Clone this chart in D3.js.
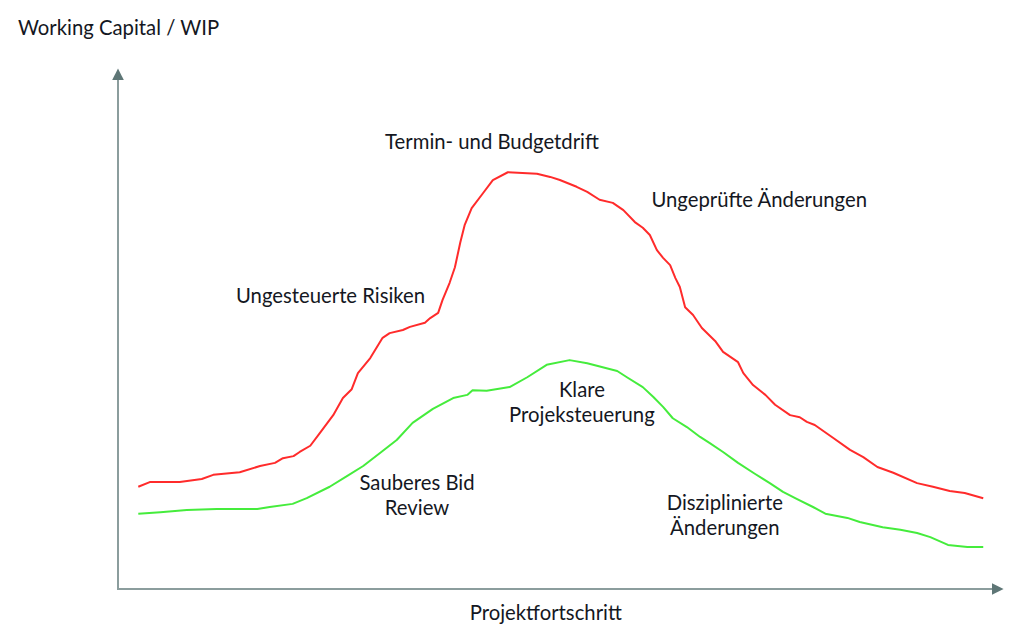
<!DOCTYPE html>
<head>
  <meta charset="utf-8">
  <title>Working Capital / WIP</title>
  <script src="https://d3js.org/d3.v7.min.js"></script>
  <style>
    body { margin: 0; background: #fff; }
    text { font-family: Lato, "Open Sans", sans-serif; fill: #141722; font-size: 20.3px; }
  </style>
</head>
<body>
  <div id="chart"></div>
  <script type="text/javascript">

    // Projektfortschritt (0-100) und WIP (0-100)
    var redX = [2.3, 3.6, 7.0, 9.5, 10.8, 13.8, 16.1, 17.8, 18.7, 19.9, 20.6, 21.8, 22.9, 24.4, 25.5, 26.5, 27.2, 28.6, 30.0, 30.8, 32.3, 33.1, 34.8, 35.4, 36.3, 36.8, 37.6, 38.2, 38.8, 39.3, 40.1, 41.4, 42.5, 44.2, 47.5, 49.0, 50.1, 52.0, 53.2, 54.6, 56.1, 57.3, 58.6, 59.5, 60.3, 61.1, 61.8, 62.6, 63.2, 63.7, 64.3, 65.2, 66.2, 67.7, 68.6, 70.3, 70.9, 72.0, 73.4, 74.5, 76.2, 77.3, 78.1, 79.0, 81.1, 83.0, 84.5, 86.1, 87.9, 90.6, 92.4, 94.3, 96.0, 98.1];
    var redY = [19.7, 20.6, 20.6, 21.2, 22.0, 22.5, 23.7, 24.3, 25.2, 25.6, 26.4, 27.6, 30.1, 33.5, 36.8, 38.5, 41.6, 44.5, 48.4, 49.3, 49.9, 50.5, 51.3, 52.2, 53.2, 55.7, 59.0, 62.0, 66.7, 70.1, 73.4, 76.3, 78.8, 80.3, 80.0, 79.4, 78.8, 77.5, 76.5, 75.0, 74.4, 73.0, 70.7, 69.6, 68.2, 65.3, 63.8, 62.4, 59.9, 58.2, 54.3, 52.8, 50.3, 47.8, 45.7, 43.7, 41.6, 39.3, 37.4, 35.5, 33.5, 33.1, 32.2, 31.6, 29.1, 26.8, 25.4, 23.5, 22.4, 20.4, 19.7, 18.9, 18.5, 17.5];

    var greenX = [2.3, 4.8, 7.8, 11.2, 15.8, 17.2, 19.8, 21.4, 24.0, 26.0, 27.8, 30.0, 31.6, 33.4, 35.7, 38.0, 39.6, 40.2, 41.8, 44.4, 46.4, 48.6, 51.2, 53.2, 56.6, 57.7, 59.5, 60.7, 61.8, 62.9, 64.5, 66.0, 67.1, 68.6, 70.3, 72.2, 73.9, 75.4, 77.0, 78.8, 80.2, 82.7, 84.1, 86.7, 88.7, 90.6, 92.1, 94.1, 96.3, 98.1];
    var greenY = [14.5, 14.8, 15.2, 15.4, 15.4, 15.8, 16.4, 17.5, 19.7, 21.8, 23.7, 26.6, 28.7, 32.0, 34.7, 36.8, 37.4, 38.3, 38.2, 38.9, 40.8, 43.2, 44.1, 43.5, 42.0, 40.8, 38.9, 37.0, 35.1, 32.9, 31.2, 29.3, 28.1, 26.4, 24.3, 22.2, 20.4, 18.7, 17.3, 15.8, 14.5, 13.7, 12.9, 11.9, 11.4, 10.8, 10.0, 8.5, 8.1, 8.1];

    // Beschriftungen (Mittelpunkt in Datenkoordinaten)
    var labelText = [
      ['Termin- und Budgetdrift'],
      ['Ungeprüfte Änderungen'],
      ['Ungesteuerte Risiken'],
      ['Klare', 'Projeksteuerung'],
      ['Sauberes Bid', 'Review'],
      ['Disziplinierte', 'Änderungen']
    ];
    var labelX = [42.4, 72.7, 24.1, 52.6, 33.9, 68.8];
    var labelY = [84.8, 73.6, 55.1, 37.0, 19.1, 15.2];

    var width = 1024;
    var height = 634;
    var margin = { top: 70, right: 24, bottom: 45, left: 118 };

    var xScale = d3.scaleLinear()
      .domain([0, 100])
      .range([margin.left, margin.left + 882]);
    var yScale = d3.scaleLinear()
      .domain([0, 100])
      .range([height - margin.bottom, height - margin.bottom - 519]);

    var svg = d3.select('#chart')
      .append('svg')
        .attr('width', width)
        .attr('height', height);

    // Pfeilspitze
    svg.append('defs').append('marker')
        .attr('id', 'arrow')
        .attr('viewBox', '0 0 10 10')
        .attr('refX', 2)
        .attr('refY', 5)
        .attr('markerWidth', 6)
        .attr('markerHeight', 6)
        .attr('orient', 'auto')
      .append('path')
        .attr('d', 'M0,0 L10,5 L0,10 Z')
        .attr('fill', '#5e7676');

    var x0 = xScale(0), y0 = yScale(0);

    // Achsen
    svg.append('line')
      .attr('x1', x0).attr('y1', y0)
      .attr('x2', x0).attr('y2', yScale(100) + 8)
      .attr('stroke', '#8b9d9d')
      .attr('stroke-width', 2)
      .attr('marker-end', 'url(#arrow)');
    svg.append('line')
      .attr('x1', x0 - 1).attr('y1', y0)
      .attr('x2', xScale(100) - 6).attr('y2', y0)
      .attr('stroke', '#8b9d9d')
      .attr('stroke-width', 2)
      .attr('marker-end', 'url(#arrow)');

    var line = d3.line()
      .x(function (d) { return xScale(d[0]); })
      .y(function (d) { return yScale(d[1]); });

    var series = [
      { color: '#ff2b2b', pts: d3.zip(redX, redY) },
      { color: '#45ec3c', pts: d3.zip(greenX, greenY) }
    ];

    svg.selectAll('path.series')
        .data(series)
        .enter()
      .append('path')
        .attr('class', 'series')
        .attr('d', function (d) { return line(d.pts); })
        .attr('fill', 'none')
        .attr('stroke', function (d) { return d.color; })
        .attr('stroke-width', 2)
        .attr('stroke-linejoin', 'round');

    // Achsentitel
    svg.append('text')
      .attr('x', 18)
      .attr('y', 35)
      .text('Working Capital / WIP');

    svg.append('text')
      .attr('x', xScale(48.5))
      .attr('y', 620)
      .style('text-anchor', 'middle')
      .text('Projektfortschritt');

    // Beschriftungen
    labelText.forEach(function (lines, i) {
      var t = svg.append('text')
        .attr('x', xScale(labelX[i]))
        .attr('y', yScale(labelY[i]))
        .style('text-anchor', 'middle');
      lines.forEach(function (s, j) {
        t.append('tspan')
          .attr('x', xScale(labelX[i]))
          .attr('dy', j === 0 ? 0 : 25)
          .text(s);
      });
    });
  </script>
</body>
